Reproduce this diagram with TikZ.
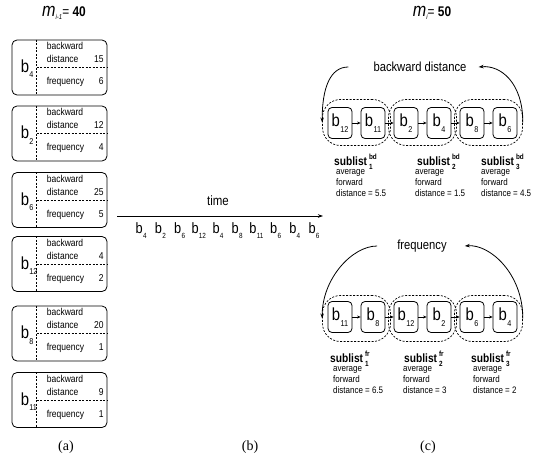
\documentclass[tikz,border=0pt]{standalone}
\usepackage{fontspec}
\setmainfont{Liberation Sans}[FakeStretch=0.85]
\newfontfamily\serf{Liberation Serif}
\usetikzlibrary{arrows.meta}
\newcommand\bs[1]{{\fontsize{17.5}{17.5}\selectfont b}\kern0.3pt\raisebox{-5.5pt}{\fontsize{8.5}{8.5}\selectfont #1}}
\newcommand\bsm[1]{{\fontsize{15}{15}\selectfont b}\kern0.3pt\raisebox{-5pt}{\fontsize{7.5}{7.5}\selectfont #1}}
\newcommand\subl[2]{{\fontsize{12}{12}\selectfont\bfseries sublist}\kern2pt\raisebox{-4pt}{\fontsize{7.5}{7.5}\selectfont\bfseries\shortstack[l]{#1\\[1.5pt]#2}}}
\tikzset{
  lboxs/.style={draw, rounded corners=5pt, minimum width=95pt, minimum height=55pt, inner sep=0pt, line width=0.8pt},
  dsh/.style={dashed, dash pattern=on 2pt off 1.5pt, line width=0.7pt},
  lt/.style={font=\fontsize{10}{10}\selectfont, inner sep=0pt},
  bl/.style={inner sep=0pt, anchor=base west},
  rb/.style={draw, rounded corners=4pt, minimum width=24pt, minimum height=31pt, inner sep=0pt, line width=0.8pt},
  grp/.style={draw, dash pattern=on 2pt off 1.5pt, rounded corners=18pt, minimum width=68pt, minimum height=46pt, inner sep=0pt, line width=0.7pt},
  lnk/.style={-{Stealth[length=3.5pt,width=3pt]}, line width=0.7pt},
  carr/.style={-{Stealth[length=5pt,width=3.5pt]}, line width=0.8pt},
  ttl/.style={font=\fontsize{13.2}{13.2}\selectfont, inner sep=0pt},
  avg/.style={font=\fontsize{9.4}{11}\selectfont, align=left, inner sep=0pt, anchor=north west},
  capl/.style={font=\serf\fontsize{14}{14}\selectfont, inner sep=0pt},
  seq/.style={inner sep=0pt}
}
\newcommand\lbox[5]{%
  \node[lboxs] (#1) at (59.5,#2) {};
  \draw[dsh] ([xshift=25pt]#1.north west) -- ([xshift=25pt]#1.south west);
  \draw[dsh] ([xshift=25pt]#1.west) -- (#1.east);
  \node[bl] (#1b) at ([xshift=9pt,yshift=-5pt]#1.west) {\bs{#3}};
  \node[lt, anchor=base west] (#1t1) at ([xshift=35pt,yshift=-10pt]#1.north west) {backward};
  \node[lt, anchor=base west] (#1t2) at ([xshift=35pt,yshift=-23pt]#1.north west) {distance};
  \node[lt, anchor=base east] (#1v1) at ([xshift=-3.5pt,yshift=-23pt]#1.north east) {#4};
  \node[lt, anchor=base west] (#1t3) at ([xshift=35pt,yshift=-45pt]#1.north west) {frequency};
  \node[lt, anchor=base east] (#1v2) at ([xshift=-3.5pt,yshift=-45pt]#1.north east) {#5};
}
\begin{document}
\begin{tikzpicture}[x=1pt,y=-1pt]
\useasboundingbox (0,0) rectangle (547,463);
% titles
\node[inner sep=0pt] (tl) at (64,13) {{\fontsize{19}{19}\selectfont\itshape m}\raisebox{-3pt}{\fontsize{7}{7}\selectfont\itshape i-1}{\fontsize{14}{14}\selectfont= \bfseries 40}};
\node[inner sep=0pt] (tr) at (432,13) {{\fontsize{19}{19}\selectfont\itshape m}\raisebox{-3pt}{\fontsize{7}{7}\selectfont\itshape i}{\fontsize{14}{14}\selectfont= \bfseries 50}};
% (a) left boxes
\lbox{L1}{67.5}{4}{15}{6}
\lbox{L2}{133.5}{2}{12}{4}
\lbox{L3}{200}{6}{25}{5}
\lbox{L4}{264}{12}{4}{2}
\lbox{L5}{333.5}{8}{20}{1}
\lbox{L6}{400}{11}{9}{1}
\node[capl] (ca) at (66,447) {(a)};
% (b) time
\coordinate (ts) at (117,216);
\coordinate (te) at (323,216);
\draw[carr] (ts) -- (te);
\node[font=\fontsize{13.5}{13.5}\selectfont, inner sep=0pt] (time) at (218,201) {time};
\foreach \s [count=\i] in {4,2,6,12,4,8,11,6,4,6}
  \node[seq] (s\i) at (122+19.2*\i,231) {\bsm{\s}};
\node[capl] (cb) at (250,447) {(b)};
% (c) backward distance list
\foreach \n/\x/\s in {a/340/12,b/373/11,c/406/2,d/439/4,e/472/8,f/505/6}
  \node[rb] (u\n) at (\x,123) {\bs{\s}};
\node[grp] (ug1) at (356.5,122.5) {};
\node[grp] (ug2) at (422.5,122.5) {};
\node[grp] (ug3) at (488.5,122.5) {};
\draw[lnk] (ua) -- (ub);
\draw[lnk] (ub) -- (uc);
\draw[lnk] (uc) -- (ud);
\draw[lnk] (ud) -- (ue);
\draw[lnk] (ue) -- (uf);
\node[ttl] (bdt) at (420,67) {backward distance};
\draw[carr] ([xshift=-25pt]bdt.west) .. controls +(-18,0) and +(0,-35) .. (ug1.west);
\draw[carr] (ug3.east) .. controls +(0,-40) and +(22,-2) .. ([xshift=12pt]bdt.east);
\node[inner sep=0pt, anchor=base west] (sb1) at (334,165) {\subl{bd}{1}};
\node[inner sep=0pt, anchor=base west] (sb2) at (417,165) {\subl{bd}{2}};
\node[inner sep=0pt, anchor=base west] (sb3) at (481,165) {\subl{bd}{3}};
\node[avg] (ab1) at (336,169) {average\\forward\\distance = 5.5};
\node[avg] (ab2) at (415,169) {average\\forward\\distance = 1.5};
\node[avg] (ab3) at (481,169) {average\\forward\\distance = 4.5};
% frequency list
\foreach \n/\x/\s in {a/340/11,b/373/8,c/406/12,d/439/2,e/472/6,f/505/4}
  \node[rb] (v\n) at (\x,317) {\bs{\s}};
\node[grp] (vg1) at (356.5,318.5) {};
\node[grp] (vg2) at (422.5,318.5) {};
\node[grp] (vg3) at (488.5,318.5) {};
\draw[lnk] (va) -- (vb);
\draw[lnk] (vb) -- (vc);
\draw[lnk] (vc) -- (vd);
\draw[lnk] (vd) -- (ve);
\draw[lnk] (ve) -- (vf);
\node[ttl] (frt) at (422,246) {frequency};
\draw[carr] ([xshift=-20pt]frt.west) .. controls +(-25,0) and +(0,-40) .. (vg1.west);
\draw[carr] (vg3.east) .. controls +(0,-45) and +(25,-2) .. ([xshift=18pt]frt.east);
\node[inner sep=0pt, anchor=base west] (sf1) at (330,362) {\subl{fr}{1}};
\node[inner sep=0pt, anchor=base west] (sf2) at (404,362) {\subl{fr}{2}};
\node[inner sep=0pt, anchor=base west] (sf3) at (471,362) {\subl{fr}{3}};
\node[avg] (af1) at (333,366) {average\\forward\\distance = 6.5};
\node[avg] (af2) at (403,366) {average\\forward\\distance = 3};
\node[avg] (af3) at (473,366) {average\\forward\\distance = 2};
\node[capl] (cc) at (428,447) {(c)};
\end{tikzpicture}
\end{document}
